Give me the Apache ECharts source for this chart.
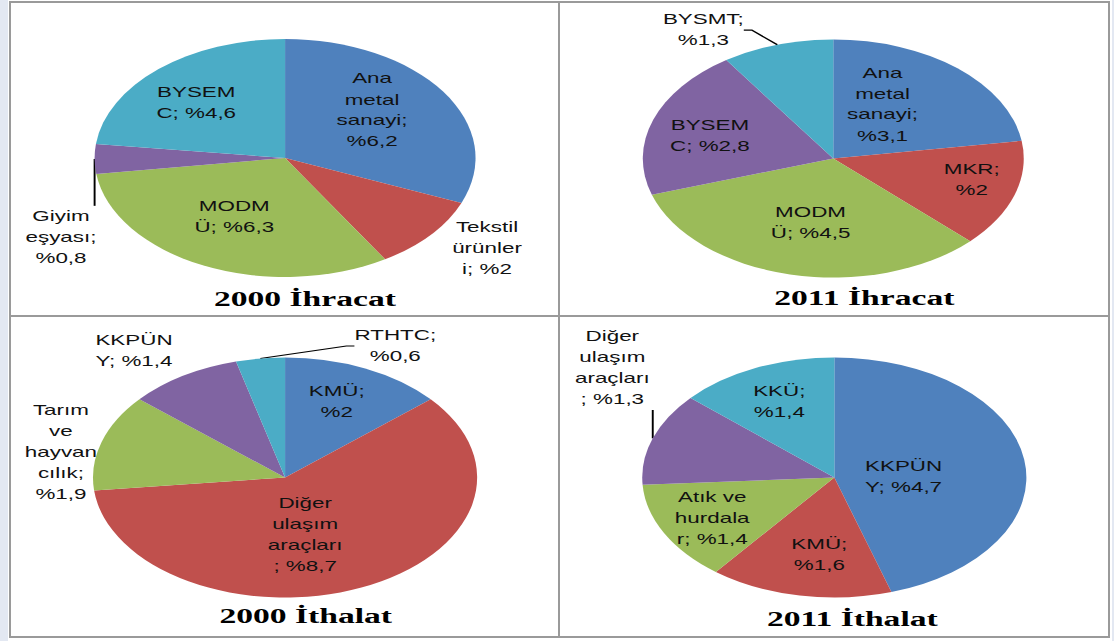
<!DOCTYPE html>
<html>
<head>
<meta charset="utf-8">
<script src="https://cdn.jsdelivr.net/npm/echarts@6/dist/echarts.min.js"></script>
<style>
  html, body { margin: 0; padding: 0; background: #fff; }
  #wrap { position: relative; width: 1114px; height: 641px; overflow: hidden; background: #fff; }
  /* the source picture is stretched sideways, so the chart is drawn narrow and scaled */
  #chart { position: absolute; left: 0; top: 0; width: 696px; height: 641px; transform: scaleX(1.6006); transform-origin: 0 0; }
  .ln { position: absolute; background: #9a9a9a; }
  .side { position: absolute; top: 0; height: 641px; background: #e3e8f2; }
</style>
</head>
<body>
<div id="wrap">
  <div class="side" style="left:0;width:8px"></div>
  <div class="side" style="left:1112px;width:2px"></div>
  <div id="chart"></div>
  <div class="ln" style="left:9px;top:1px;width:1101px;height:2px"></div>
  <div class="ln" style="left:9px;top:636px;width:1101px;height:2px"></div>
  <div class="ln" style="left:9px;top:1px;width:2px;height:637px"></div>
  <div class="ln" style="left:1108px;top:1px;width:2px;height:637px"></div>
  <div class="ln" style="left:558px;top:1px;width:2px;height:637px"></div>
  <div class="ln" style="left:9px;top:315px;width:1101px;height:2px"></div>
</div>
<script>
// 2000 ihracat
const exp2000Names = ['Ana metal sanayi', 'Tekstil ürünleri', 'MODMÜ', 'Giyim eşyası', 'BYSEMC'];
const exp2000Values = [6.2, 2, 6.3, 0.8, 4.6];
const exp2000Text = ['Ana\nmetal\nsanayi;\n', 'Tekstil\nürünler\ni; ', 'MODM\nÜ; ', 'Giyim\neşyası;\n', 'BYSEM\nC; '];

// 2011 ihracat
const exp2011Names = ['Ana metal sanayi', 'MKR', 'MODMÜ', 'BYSEMC', 'BYSMT'];
const exp2011Values = [3.1, 2, 4.5, 2.8, 1.3];
const exp2011Text = ['Ana\nmetal\nsanayi;\n', 'MKR;\n', 'MODM\nÜ; ', 'BYSEM\nC; ', 'BYSMT;\n'];

// 2000 ithalat
const imp2000Names = ['KMÜ', 'Diğer ulaşım araçları', 'Tarım ve hayvancılık', 'KKPÜNY', 'RTHTC'];
const imp2000Values = [2, 8.7, 1.9, 1.4, 0.6];
const imp2000Text = ['KMÜ;\n', 'Diğer\nulaşım\naraçları\n; ', 'Tarım\nve\nhayvan\ncılık;\n', 'KKPÜN\nY; ', 'RTHTC;\n'];

// 2011 ithalat
const imp2011Names = ['KKPÜNY', 'KMÜ', 'Atık ve hurdalar', 'Diğer ulaşım araçları', 'KKÜ'];
const imp2011Values = [4.7, 1.6, 1.4, 1.3, 1.4];
const imp2011Text = ['KKPÜN\nY; ', 'KMÜ;\n', 'Atık ve\nhurdala\nr; ', 'Diğer\nulaşım\naraçları\n; ', 'KKÜ;\n'];

const titles = ['2000 İhracat', '2011 İhracat', '2000 İthalat', '2011 İthalat'];

const colors = ['#4F81BD', '#C0504D', '#9BBB59', '#8064A2', '#4BACC6'];

const chart = echarts.init(document.getElementById('chart'), null, { renderer: 'svg' });

// outside: label sits outside the pie
// lines: 0 no leader, 1 leader drawn by echarts, 2 straight vertical leader from the slice edge
// offsets nudge each label from where echarts puts it
function pieSeries(center, radius, names, values, text, outside, lines, offsets) {
  const total = values.reduce((a, b) => a + b, 0);
  let acc = 0;
  const mids = values.map(v => { const m = (acc + v / 2) / total * Math.PI * 2; acc += v; return m; });
  return {
    type: 'pie',
    center: center,
    radius: radius,
    startAngle: 90,
    clockwise: true,
    avoidLabelOverlap: false,
    silent: true,
    animation: false,
    data: names.map((n, i) => ({
      name: n,
      value: values[i],
      itemStyle: { color: colors[i], borderWidth: 0 },
      label: { position: outside[i] ? 'outside' : 'inside' },
      labelLine: { show: lines[i] > 0 }
    })),
    label: {
      formatter: p => text[p.dataIndex] + '%' + String(p.value).replace('.', ','),
      color: '#111',
      fontSize: 14,
      lineHeight: 21,
      fontFamily: '"Liberation Sans", Arial, sans-serif',
      textBorderWidth: 0
    },
    labelLine: { length: 10, length2: 5, lineStyle: { color: '#000', width: 1.2 } },
    labelLayout: p => {
      const i = p.dataIndex;
      const o = offsets[i];
      const r = p.labelRect;
      let ax = r.x + r.width / 2;
      if (p.align === 'right') ax = r.x + r.width;
      else if (p.align === 'left') ax = r.x;
      const x = ax + o[0];
      const y = r.y + r.height / 2 + o[1];
      const out = { x: x, y: y, align: 'center', verticalAlign: 'middle' };
      if (lines[i] === 2) {
        const ex = center[0] + radius * Math.sin(mids[i]);
        const ey = center[1] - radius * Math.cos(mids[i]);
        const ty = y > ey ? y - r.height / 2 : y + r.height / 2;
        out.labelLinePoints = [[ex, ey], [ex, ty]];
      }
      return out;
    }
  };
}

const titleFont = 'bold 21px "Liberation Serif", "Times New Roman", serif';
const titlePos = [[190.5, 299], [540, 298], [191, 616], [532.5, 619]];

chart.setOption({
  graphic: titles.map((t, i) => ({
    type: 'text',
    x: titlePos[i][0],
    y: titlePos[i][1],
    style: { text: t, font: titleFont, fill: '#000', align: 'center', verticalAlign: 'middle' }
  })),
  series: [
    pieSeries([178.1, 158], 119, exp2000Names, exp2000Values, exp2000Text,
      [false, true, false, true, false], [0, 0, 0, 2, 0],
      [[2.5, -13], [17.7, 6.6], [-5, 2], [-1, 78.3], [-14, -9]]),
    pieSeries([520.6, 158.5], 119, exp2011Names, exp2011Values, exp2011Text,
      [false, false, false, false, true], [0, 0, 0, 0, 1],
      [[-10, -7], [27, 2.5], [0, 3], [-18, -2], [-33.3, -5.1]]),
    pieSeries([178.1, 477.5], 120, imp2000Names, imp2000Values, imp2000Text,
      [false, false, true, true, true], [0, 0, 0, 0, 1],
      [[6, -19], [-12.5, -1], [-5.9, 13.2], [-15.4, -16.2], [95.6, -2.6]]),
    pieSeries([521.25, 477.5], 120, imp2011Names, imp2011Values, imp2011Text,
      [false, false, false, true, false], [0, 0, 0, 2, 0],
      [[-19, 9], [2, 15.5], [-20.5, 11], [-5.8, -67.1], [-8.5, -18]])
  ]
});
</script>
</body>
</html>
